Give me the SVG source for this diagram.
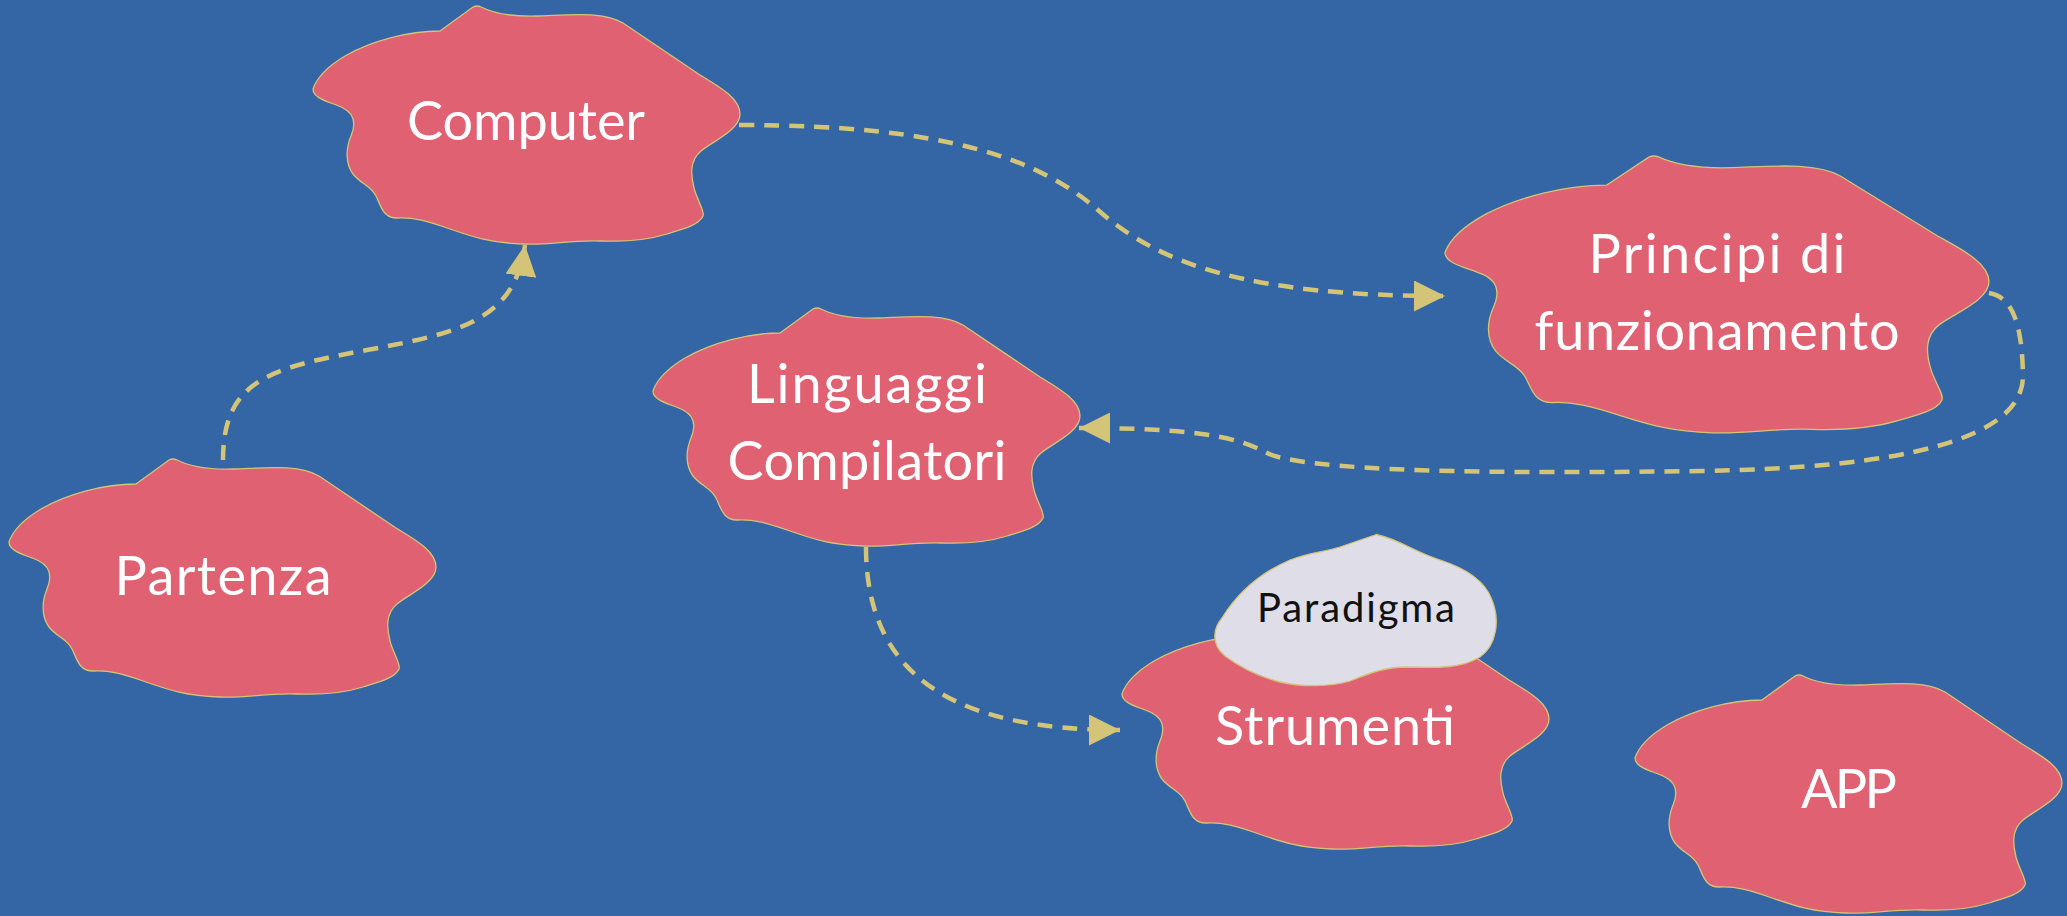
<svg xmlns="http://www.w3.org/2000/svg" xmlns:xlink="http://www.w3.org/1999/xlink" width="2067" height="916" viewBox="0 0 2067 916">
<style>
.blob{fill:#e06172;stroke:#d4c478;stroke-width:1.3}
.light{fill:#dedde8;stroke:#d4c478;stroke-width:1.3}
.lbl{font-family:Lato,"Open Sans","Liberation Sans",sans-serif;font-size:54px;fill:#ffffff;text-anchor:middle}
.dark{font-size:40px;fill:#111111}
.conn{fill:none;stroke:#d4c478;stroke-width:4.5;stroke-dasharray:15 10}
</style>
<defs>
<path id="blobshape" vector-effect="non-scaling-stroke" d="M127,25 L160,1 Q164,-1 168,1 C178,6 195,11 225,10 C255,9 290,5 310,17 L387,69 C405,80 427,92 427,108 C427,124 400,135 388,145 C376,155 378,170 381,182 C384,194 392,205 390,210 C386,219 370,223 354,228 C335,234 315,236 288,235 C255,234 240,239 210,238 C178,237 160,231 137,223 C115,215 100,211 84,212 C70,212 68,200 63,190 C58,180 48,178 40,168 C32,157 33,142 38,130 C43,118 42,108 30,102 C18,96 0,93 0,83 C3,74 12,62 32,50 C58,35 95,25 127,25 Z"/>
<marker id="arr" markerUnits="userSpaceOnUse" markerWidth="31" markerHeight="31" viewBox="0 0 31 31" refX="31" refY="15.5" orient="auto">
<path d="M0,0 L31,15.5 L0,31 Z" fill="#d4c478"/>
</marker>
</defs>
<rect x="0" y="0" width="2067" height="916" fill="#3465a4"/>

<g id="node-computer">
<use xlink:href="#blobshape" class="blob" transform="translate(313,6)"/>
<text class="lbl" x="526" y="140" textLength="238" lengthAdjust="spacing">Computer</text>
</g>

<g id="node-partenza">
<use xlink:href="#blobshape" class="blob" transform="translate(9,459)"/>
<text class="lbl" x="223" y="595" textLength="217" lengthAdjust="spacing">Partenza</text>
</g>

<g id="node-linguaggi">
<use xlink:href="#blobshape" class="blob" transform="translate(653,308)"/>
<text class="lbl" x="867" y="403" textLength="240" lengthAdjust="spacing">Linguaggi</text>
<text class="lbl" x="867" y="480" textLength="279" lengthAdjust="spacing">Compilatori</text>
</g>

<g id="node-principi">
<use xlink:href="#blobshape" class="blob" transform="translate(1445,156) scale(1.274,1.163)"/>
<text class="lbl" x="1717" y="273" textLength="257" lengthAdjust="spacing">Principi di</text>
<text class="lbl" x="1717" y="350" textLength="365" lengthAdjust="spacing">funzionamento</text>
</g>

<g id="node-strumenti">
<use xlink:href="#blobshape" class="blob" transform="translate(1122,611)"/>
<text class="lbl" x="1335" y="745" textLength="240" lengthAdjust="spacing">Strumenti</text>
</g>

<g id="node-paradigma">
<path class="light" d="M1378,535 C1400,540 1415,552 1440,560 C1465,568 1485,580 1492,600 C1500,620 1497,645 1480,657 C1462,668 1440,668 1407,667 C1385,667 1370,673 1350,681 C1330,687 1300,687 1280,682 C1260,677 1240,667 1225,656 C1212,645 1212,630 1222,618 C1235,597 1255,575 1290,560 C1310,552 1320,553 1340,547 L1375,535 Q1377,534 1378,535 Z"/>
<text class="lbl dark" x="1356" y="622" textLength="198" lengthAdjust="spacing">Paradigma</text>
</g>

<g id="node-app">
<use xlink:href="#blobshape" class="blob" transform="translate(1635,675)"/>
<text class="lbl" x="1849" y="808" textLength="96" lengthAdjust="spacing">APP</text>
</g>

<g id="connectors">
<path class="conn" marker-end="url(#arr)" d="M739,125 C950,125 1040,160 1098,210 C1160,265 1250,296 1445,296"/>
<path class="conn" marker-end="url(#arr)" d="M223,460 C223,380 270,368 367,350 C460,333 515,320 525,245"/>
<path class="conn" marker-end="url(#arr)" d="M1989,293 C2015,297 2022,330 2023,375 C2024,440 1900,468 1700,471 C1500,474 1300,472 1265,452 C1235,436 1190,428 1079,428"/>
<path class="conn" marker-end="url(#arr)" d="M866,547 C866,680 960,730 1120,730"/>
</g>
</svg>
